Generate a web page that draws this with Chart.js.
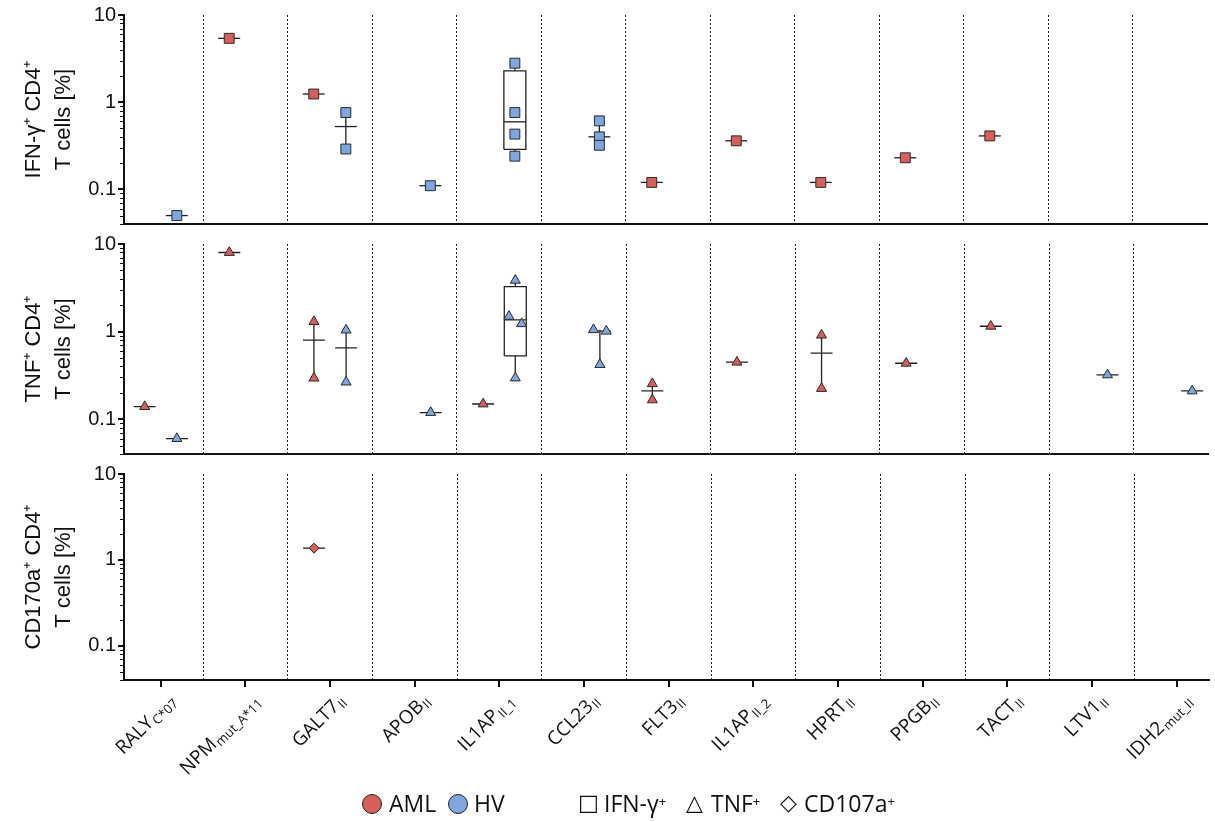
<!DOCTYPE html>
<html>
<head>
<meta charset="utf-8">
<script src="https://cdn.jsdelivr.net/npm/chart.js@4.4.0/dist/chart.umd.min.js"></script>
<style>
body{margin:0;background:#fff;width:1215px;height:822px;overflow:hidden;position:relative;}
.panel{position:absolute;left:0;width:1215px;}
.lg{position:absolute;top:788px;font-family:"Open Sans",sans-serif;font-size:23px;line-height:30px;color:#111;white-space:nowrap;}
.lg sup{font-size:13px;vertical-align:top;position:relative;top:-2px;}
.dot{position:absolute;top:794px;width:18px;height:18px;border-radius:50%;border:1px solid #222;}
.sym{position:absolute;top:788px;font-family:"DejaVu Sans",sans-serif;font-size:22px;line-height:30px;color:#111;}
</style>
</head>
<body>
<div class="panel" style="top:0;height:238px"><canvas id="c1"></canvas></div>
<div class="panel" style="top:230px;height:238px"><canvas id="c2"></canvas></div>
<div class="panel" style="top:460px;height:340px"><canvas id="c3"></canvas></div>

<span class="dot" style="left:362px;background:#d65f5b"></span><span class="lg" style="left:389px">AML</span>
<span class="dot" style="left:448px;background:#7fa6df"></span><span class="lg" style="left:474px">HV</span>
<span class="sym" style="left:578px">□</span><span class="lg" style="left:604px">IFN-γ<sup>+</sup></span>
<span class="sym" style="left:686px">△</span><span class="lg" style="left:711px">TNF<sup>+</sup></span>
<span class="sym" style="left:780px">◇</span><span class="lg" style="left:804px">CD107a<sup>+</sup></span>

<script>
// categories and their subscripts
const categories=['RALY','NPM','GALT7','APOB','IL1AP','CCL23','FLT3','IL1AP','HPRT','PPGB','TACT','LTV1','IDH2'];
const subscripts=['C*07','mut_A*11','II','II','II_1','II','II','II_2','II','II','II','II','mut_II'];
const yTicks=[0.1,1,10];

// IFN-g+ CD4+ T cells [%]
const ifngAML=[[],[5.4],[1.24],[],[],[],[0.12],[0.36],[0.12],[0.23],[0.41],[],[]];
const ifngHV=[[0.05],[],[0.76,0.29],[0.11],[2.8,0.76,0.43,0.24],[0.61,0.40,0.32],[],[],[],[],[],[],[]];
// TNF+ CD4+ T cells [%]
const tnfAML=[[0.139],[8.0],[1.30,0.294],[],[0.149],[],[0.254,0.166],[0.447],[0.91,0.224],[0.435],[1.15],[],[]];
const tnfHV=[[0.060],[],[1.04,0.265],[0.119],[3.85,1.49,1.23,0.295],[1.05,1.01,0.42],[],[],[],[],[],[0.32],[0.21]];
// CD107a+ CD4+ T cells [%]
const cdAML=[[],[],[1.37],[],[],[],[],[],[],[],[],[],[]];
const cdHV=[[],[],[],[],[],[],[],[],[],[],[],[],[]];

const AML_COLOR='#d65f5b', HV_COLOR='#7fa6df', EDGE='#2a2a2a', INK='#111';
const XMIN=-0.435, XMAX=12.38;
const HALF=0.13, OFFSET=0.19;

const quantile=(s,p)=>{
    const pos=p*(s.length+1);
    if(pos<=1) return s[0];
    if(pos>=s.length) return s[s.length-1];
    const lo=Math.floor(pos);
    return s[lo-1]+(pos-lo)*(s[lo]-s[lo-1]);
};

const seg=(pts)=>({
    type:'line',
    data:pts.map(p=>({x:p[0],y:p[1]})),
    borderColor:'#222',
    borderWidth:1.3,
    pointRadius:0,
    fill:false,
    order:2
});

const buildGroup=(values,offset,color,style,radius)=>{
    const pts=[], lines=[];
    values.forEach((vals,i)=>{
        if(!vals.length) return;
        const cx=i+offset;
        const s=[...vals].sort((a,b)=>a-b);
        const med=quantile(s,0.5);
        lines.push(seg([[cx-HALF,med],[cx+HALF,med]]));
        if(s.length>=4){
            const q1=quantile(s,0.25), q3=quantile(s,0.75);
            lines.push(seg([[cx-HALF,q1],[cx+HALF,q1],[cx+HALF,q3],[cx-HALF,q3],[cx-HALF,q1]]));
            lines.push(seg([[cx,q3],[cx,s[s.length-1]]]));
            lines.push(seg([[cx,s[0]],[cx,q1]]));
        } else if(s.length>1){
            lines.push(seg([[cx,s[0]],[cx,s[s.length-1]]]));
        }
        // spread points that would sit on top of each other
        const desc=[...vals].sort((a,b)=>b-a);
        const jit=desc.map(()=>0);
        for(let k=1;k<desc.length;k++){
            if(Math.log10(desc[k-1]/desc[k])<0.09){ jit[k-1]=-0.075; jit[k]=0.075; }
        }
        desc.forEach((v,k)=>pts.push({x:cx+jit[k],y:v}));
    });
    const ptsSet={
        type:'scatter',
        data:pts,
        pointStyle:style,
        pointRadius:radius,
        backgroundColor:color,
        borderColor:EDGE,
        borderWidth:1,
        order:0
    };
    return [...lines,ptsSet];
};

const minorTicks={
    id:'minorTicks',
    afterDraw(chart){
        const y=chart.scales.y, ctx=chart.ctx, x0=chart.chartArea.left;
        ctx.save();
        ctx.strokeStyle=INK; ctx.lineWidth=1;
        for(let e=-2;e<=1;e++){
            for(let k=2;k<=9;k++){
                const v=k*Math.pow(10,e);
                if(v<y.min||v>y.max) continue;
                const py=Math.round(y.getPixelForValue(v))+0.5;
                ctx.beginPath(); ctx.moveTo(x0-4,py); ctx.lineTo(x0,py); ctx.stroke();
            }
        }
        ctx.restore();
    }
};

const xLabels={
    id:'xLabels',
    afterDraw(chart){
        if(!chart.options.plugins.xLabels.show) return;
        const xs=chart.scales.x, ctx=chart.ctx, top=chart.chartArea.bottom;
        const MAIN='19px "Open Sans", sans-serif', SUB='13px "Open Sans", sans-serif';
        categories.forEach((name,i)=>{
            const px=xs.getPixelForValue(i);
            ctx.save();
            ctx.translate(px+12,top+18);
            ctx.rotate(-Math.PI/4);
            ctx.fillStyle=INK;
            ctx.textBaseline='middle';
            ctx.textAlign='left';
            ctx.font=MAIN; const w1=ctx.measureText(name).width;
            ctx.font=SUB; const w2=ctx.measureText(subscripts[i]).width;
            ctx.font=MAIN; ctx.fillText(name,-(w1+w2+1),0);
            ctx.font=SUB; ctx.fillText(subscripts[i],-w2,5);
            ctx.restore();
        });
    }
};

const makePanel=(id,datasets,title,padTop,isBottom)=>new Chart(document.getElementById(id),{
    type:'scatter',
    data:{datasets},
    plugins:[minorTicks,xLabels],
    options:{
        responsive:true,
        maintainAspectRatio:false,
        animation:false,
        layout:{padding:{top:padTop,right:2,bottom:0,left:0}},
        plugins:{legend:{display:false},tooltip:{enabled:false},xLabels:{show:isBottom}},
        scales:{
            x:{
                type:'linear',min:XMIN,max:XMAX,position:'bottom',
                afterBuildTicks:s=>{s.ticks=categories.map((c,i)=>({value:i}));},
                ticks:{display:false},
                grid:{display:isBottom,drawOnChartArea:false,drawTicks:true,tickLength:7,color:INK,lineWidth:2},
                border:{display:true,color:INK,width:2},
                afterFit:s=>{s.height=isBottom?120:0;}
            },
            sep:{
                type:'linear',min:XMIN,max:XMAX,position:'top',
                afterBuildTicks:s=>{s.ticks=categories.slice(1).map((c,i)=>({value:i+0.5}));},
                ticks:{display:false},
                grid:{display:true,drawTicks:false,color:'#222',lineWidth:1},
                border:{display:false,dash:[2,2]},
                afterFit:s=>{s.height=0;}
            },
            y:{
                type:'logarithmic',min:0.04,max:10,
                afterBuildTicks:s=>{s.ticks=yTicks.map(v=>({value:v}));},
                ticks:{callback:v=>String(v),font:{family:'"Liberation Sans", Arial, sans-serif',size:20},color:INK,padding:2},
                grid:{drawOnChartArea:false,drawTicks:true,tickLength:6,color:INK,lineWidth:2},
                border:{color:INK,width:2},
                title:{display:true,text:title,font:{family:'"Liberation Sans", Arial, sans-serif',size:22,lineHeight:1.35},color:INK,padding:{top:19,bottom:0}},
                afterFit:s=>{s.width=124;}
            }
        }
    }
});

const datasetsFor=(aml,hv,style,radius)=>[
    ...buildGroup(aml,-OFFSET,AML_COLOR,style,radius),
    ...buildGroup(hv,OFFSET,HV_COLOR,style,radius)
];

makePanel('c1',datasetsFor(ifngAML,ifngHV,'rect',7),['IFN-γ⁺ CD4⁺','T cells [%]'],15,false);
makePanel('c2',datasetsFor(tnfAML,tnfHV,'triangle',5.8),['TNF⁺ CD4⁺','T cells [%]'],14,false);
makePanel('c3',datasetsFor(cdAML,cdHV,'rectRot',5),['CD170a⁺ CD4⁺','T cells [%]'],13,true);
</script>
</body>
</html>
